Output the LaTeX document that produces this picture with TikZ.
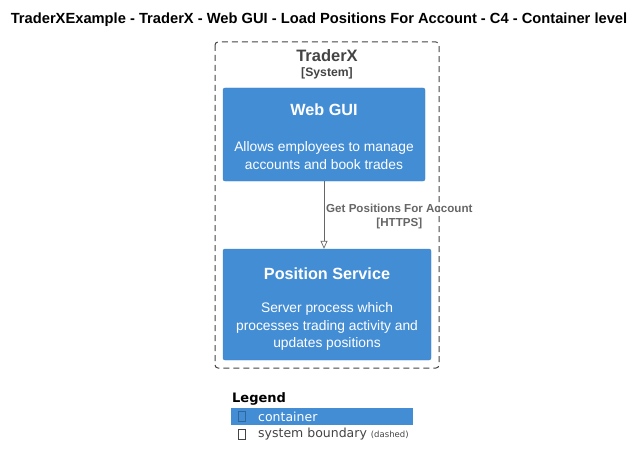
\documentclass[tikz,border=0pt]{standalone}
\usepackage{fontspec}
\setmainfont{Liberation Sans}
\newfontfamily\legendfont{DejaVu Sans}
\usepackage{xcolor}
\usepackage{tikz}
\usetikzlibrary{arrows.meta}
\usetikzlibrary{positioning, calc}
\definecolor{contblue}{HTML}{438DD5}
\definecolor{contedge}{HTML}{3C7FC0}
\definecolor{bndgray}{HTML}{444444}
\definecolor{relgray}{HTML}{666666}
\tikzset{
    container/.style = {draw=contedge, fill=contblue, text=white,
        rounded corners=2pt, align=center, inner sep=0pt,
        font=\fontsize{13.8}{17.4}\selectfont},
    boundary/.style = {draw=bndgray, dash pattern=on 6pt off 4pt,
        rounded corners=3pt, line width=1pt},
    rel/.style = {draw=relgray, line width=0.7pt,
        -{Triangle[open, length=8pt, width=7pt]}},
    rellabel/.style = {text=relgray, align=center, inner sep=0pt,
        font=\bfseries\fontsize{11.6}{14}\selectfont},
    legbox/.style = {draw=bndgray, line width=0.5pt, minimum width=7pt,
        minimum height=10pt, inner sep=0pt},
}

\begin{document}
\begin{tikzpicture}[x=1pt, y=-1pt]
        \useasboundingbox (0,0) rectangle (639,468);
        % title
        \node (title) at (319,20) {\bfseries\fontsize{14.7}{17}\selectfont TraderXExample - TraderX - Web GUI - Load Positions For Account - C4 - Container level};
        % system boundary
        \draw [boundary] (215,42) rectangle (439,368);
        \node [text=bndgray, font=\bfseries\fontsize{16.5}{18}\selectfont] (sysname) at (327,56) {TraderX};
        \node [text=bndgray, font=\bfseries\fontsize{12.2}{14}\selectfont] (systype) at (327,73) {[System]};
        % containers
        \node [container, minimum width=202pt, minimum height=93pt] (webgui) at (324,134.5)
            {\rule{0pt}{16pt}{\bfseries\fontsize{16.2}{18}\selectfont Web GUI}\\[19pt]
             Allows employees to manage\\accounts and book trades};
        \node [container, minimum width=208pt, minimum height=111pt] (possvc) at (327,304.5)
            {\rule{0pt}{21pt}{\bfseries\fontsize{16.2}{18}\selectfont Position Service}\\[16pt]
             Server process which\\processes trading activity and\\updates positions};
        % relation
        \draw [rel] (webgui.south -| 324,0) -- (possvc.north -| 324,0);
        \node [rellabel, anchor=west] (getpos) at (326,216) {Get Positions For Account\\{}[HTTPS]};
        % legend
        \node [anchor=west, inner sep=0pt, font=\legendfont\bfseries\fontsize{13}{15}\selectfont] (legtitle) at (232,399) {Legend};
        \fill [contblue] (231,408) rectangle (413,425);
        \node [legbox, draw=contedge!80!black] (legcont) at (241.5,416.5) {};
        \node [anchor=west, inner sep=0pt, text=white, font=\legendfont\fontsize{12.5}{15}\selectfont] (legconttext) at (258,416.5) {container};
        \node [legbox] (legbnd) at (241.5,434) {};
        \node [anchor=west, inner sep=0pt, text=bndgray, font=\legendfont\fontsize{12.5}{15}\selectfont] (legbndtext) at (258,434)
            {system boundary {\fontsize{8.5}{10}\selectfont (dashed)}};
        \end{tikzpicture}
\end{document}
